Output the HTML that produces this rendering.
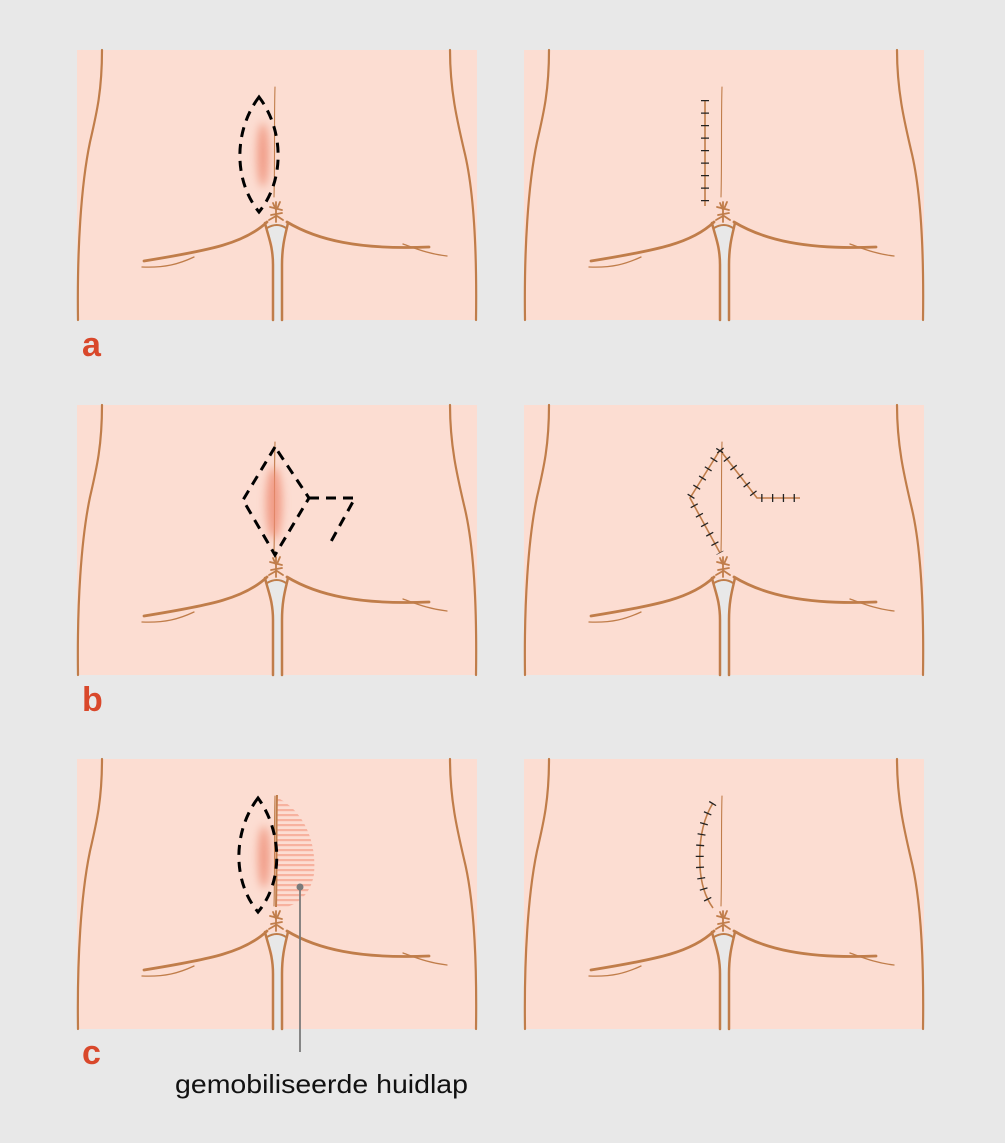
<!DOCTYPE html>
<html><head><meta charset="utf-8"><style>
html,body{margin:0;padding:0;background:#e8e8e8;}
svg{display:block;}
</style></head><body>
<svg width="1005" height="1143" viewBox="0 0 1005 1143" xmlns="http://www.w3.org/2000/svg">
<defs>
<filter id="bl" x="-100%" y="-50%" width="300%" height="200%"><feGaussianBlur stdDeviation="4.5"/></filter>
<pattern id="hatch" width="6" height="5" patternUnits="userSpaceOnUse"><rect width="6" height="2.2" fill="#f7b29f"/></pattern>
<g id="base">
<rect x="0" y="0" width="400" height="270" fill="#fcddd2"/>
<g fill="none" stroke="#c07d4a" stroke-linecap="round">
<path d="M25,0 C25,40 20,62 13,92 C4,135 0,200 1,270" stroke-width="2.2"/>
<path d="M373,0 C373,40 380,70 387,100 C397,140 400,200 399,270" stroke-width="2.2"/>
<path d="M189,176 Q200,171 210,176 L206,195 Q201,192 196,195 Z" fill="#e8e8e8" stroke="none"/>
<rect x="196" y="192" width="10" height="78" fill="#e8e8e8" stroke="none"/>
<path d="M188,173 C191,186 196,196 196,215 L196,270" stroke-width="2.5"/>
<path d="M211,173 C208,186 205,196 205,215 L205,270" stroke-width="2.5"/>
<path d="M190,178 Q200,172 209,178" stroke-width="2"/>
<path d="M190,172 C168,193 135,200 67,211" stroke-width="2.8"/>
<path d="M65,217 C88,218 102,214 117,207" stroke-width="1.3"/>
<path d="M210,172 C240,190 282,200 352,197" stroke-width="2.8"/>
<path d="M326,194 C340,199 352,204 370,206" stroke-width="1.3"/>
<path d="M199,152 L199,172 M193,157 L205,160 M194,165 L205,163 M196,153 L199,160 M203,152 L200,159 M192,170 L199,166 M206,170 L200,166" stroke-width="1.8"/>
<path d="M198,37 C197,70 198,110 197,147" stroke-width="1.1"/>
</g>
</g>
</defs>

<use href="#base" transform="translate(77,50)"/>
<use href="#base" transform="translate(524,50)"/>
<use href="#base" transform="translate(77,405)"/>
<use href="#base" transform="translate(524,405)"/>
<use href="#base" transform="translate(77,759)"/>
<use href="#base" transform="translate(524,759)"/>

<!-- a left -->
<g transform="translate(77,50)">
<ellipse cx="186" cy="105" rx="6" ry="32" fill="#ee8a72" opacity="0.8" filter="url(#bl)"/>
<path d="M182,47 C157,80 156,130 182,162 C208,130 207,80 182,47 Z" fill="none" stroke="#000" stroke-width="3" stroke-dasharray="10 7"/>
</g>
<!-- a right -->
<g transform="translate(524,50)" fill="none">
<path d="M181,50 L181,156" stroke="#c07d4a" stroke-width="1.6"/>
<path d="M181,50 L181,156" stroke="#222" stroke-width="8" stroke-dasharray="1.3 11.2"/>
</g>

<!-- b left -->
<g transform="translate(77,405)">
<ellipse cx="197" cy="98" rx="8" ry="36" fill="#ee8a72" opacity="0.8" filter="url(#bl)"/>
<path d="M198,42 L166,95 L198,150 L232,93 Z" fill="none" stroke="#000" stroke-width="3" stroke-dasharray="10 7" stroke-linejoin="miter"/>
<path d="M232,93 L278,93 L251,142" fill="none" stroke="#000" stroke-width="3" stroke-dasharray="10 7"/>
</g>
<!-- b right -->
<g transform="translate(524,405)" fill="none">
<path d="M196,45 L166,93 L196,148 M196,45 L233,93 L276,93" stroke="#c07d4a" stroke-width="1.6"/>
<path d="M196,45 L166,93 L196,148 M196,45 L233,93 L276,93" stroke="#222" stroke-width="8" stroke-dasharray="1.3 9.5"/>
</g>

<!-- c left -->
<g transform="translate(77,759)">
<path d="M199,38 C225,50 240,80 237,115 C234,135 220,148 200,150 Z" fill="url(#hatch)"/>
<ellipse cx="187" cy="98" rx="6" ry="31" fill="#ee8a72" opacity="0.8" filter="url(#bl)"/>
<path d="M200,36 C199,70 200,110 199,148" stroke="#c07d4a" stroke-width="2" fill="none"/>
<path d="M181,39 C156,72 155,122 181,153 C207,122 205,72 181,39 Z" fill="none" stroke="#000" stroke-width="3" stroke-dasharray="10 7"/>
</g>
<line x1="300" y1="886" x2="300" y2="1052" stroke="#7a7a7a" stroke-width="1.8"/>
<circle cx="300" cy="887" r="3.5" fill="#7a7a7a"/>
<!-- c right -->
<g transform="translate(524,759)" fill="none">
<path d="M189,44 C176,65 175,90 176,108 C177,125 181,138 189,149" stroke="#c07d4a" stroke-width="1.6"/>
<path d="M189,44 C176,65 175,90 176,108 C177,125 181,138 189,149" stroke="#222" stroke-width="8" stroke-dasharray="1.3 9.7"/>
</g>

<g font-family="Liberation Sans, sans-serif" font-weight="bold" font-size="34" fill="#d9482b">
<text x="82" y="356">a</text>
<text x="82" y="711">b</text>
<text x="82" y="1064">c</text>
</g>
<text x="175" y="1093" font-family="Liberation Sans, sans-serif" font-size="26" fill="#111" textLength="293" lengthAdjust="spacingAndGlyphs">gemobiliseerde huidlap</text>
</svg>
</body></html>
